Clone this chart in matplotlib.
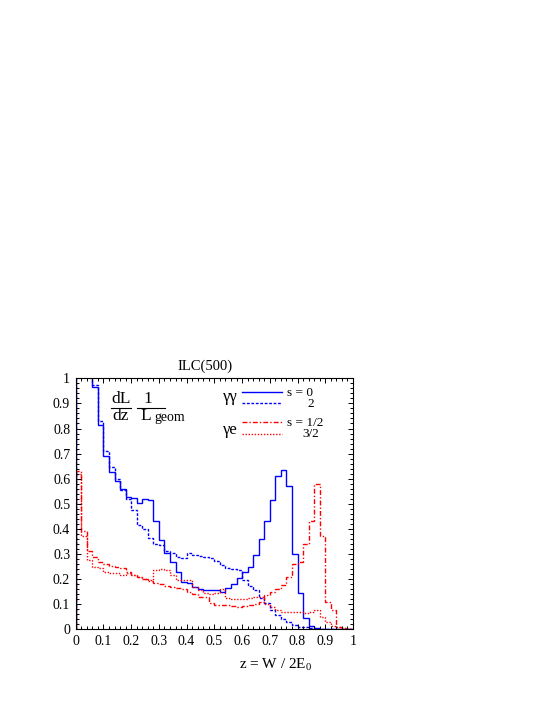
import numpy as np
import matplotlib
matplotlib.use("Agg")
from matplotlib import pyplot as plt
from matplotlib.ticker import MultipleLocator, FormatStrFormatter

plt.rcParams["font.family"] = ["Liberation Serif", "DejaVu Serif"]
plt.rcParams["mathtext.fontset"] = "custom"
plt.rcParams["mathtext.rm"] = "Liberation Serif"

# histogram bins: 50 bins of width 0.02 on z in [0, 1]
edges = np.linspace(0, 1, 51)

# gamma-gamma, s = 0 (solid) and s = 2 (dotted)
gg_s0 = [1.6, 1.4, 1.15, 0.967, 0.814, 0.69, 0.625, 0.59, 0.56, 0.528,
         0.525, 0.502, 0.518, 0.515, 0.43, 0.355, 0.305, 0.27, 0.23, 0.19,
         0.185, 0.17, 0.16, 0.155, 0.155, 0.155, 0.15, 0.165, 0.18, 0.205,
         0.23, 0.25, 0.295, 0.36, 0.43, 0.515, 0.61, 0.635, 0.57, 0.30,
         0.145, 0.045, 0.013, 0.005, 0.002, 0.001, 0, 0, 0, 0]
gg_s2 = [1.6, 1.4, 1.15, 0.975, 0.83, 0.71, 0.645, 0.60, 0.555, 0.52,
         0.475, 0.415, 0.40, 0.365, 0.34, 0.335, 0.31, 0.305, 0.29, 0.283,
         0.305, 0.298, 0.292, 0.287, 0.285, 0.272, 0.258, 0.245, 0.242, 0.236,
         0.198, 0.172, 0.157, 0.123, 0.103, 0.076, 0.057, 0.043, 0.03, 0.017,
         0.01, 0.008, 0.004, 0.002, 0.001, 0, 0, 0, 0, 0]

# gamma-e, s = 1/2 (dash-dot) and s = 3/2 (dotted)
ge_s12 = [0.63, 0.39, 0.31, 0.29, 0.27, 0.26, 0.252, 0.25, 0.243, 0.23,
          0.216, 0.207, 0.199, 0.192, 0.186, 0.18, 0.172, 0.17, 0.163, 0.16,
          0.15, 0.14, 0.13, 0.13, 0.104, 0.097, 0.097, 0.095, 0.093, 0.09,
          0.092, 0.095, 0.1, 0.11, 0.135, 0.15, 0.16, 0.175, 0.21, 0.26,
          0.27, 0.34, 0.43, 0.58, 0.37, 0.11, 0.075, 0.01, 0.005, 0.003]
ge_s32 = [0.62, 0.37, 0.276, 0.25, 0.243, 0.23, 0.223, 0.223, 0.216, 0.226,
          0.216, 0.207, 0.199, 0.195, 0.236, 0.239, 0.236, 0.216, 0.198, 0.195,
          0.196, 0.17, 0.157, 0.143, 0.14, 0.145, 0.159, 0.125, 0.122, 0.12,
          0.12, 0.125, 0.128, 0.13, 0.1, 0.09, 0.075, 0.07, 0.07, 0.068,
          0.068, 0.065, 0.07, 0.075, 0.05, 0.03, 0.015, 0.01, 0.005, 0.003]

blue = "#0000ff"
red = "#ff0000"
ls_solid = "-"
ls_bdot = (0, (2.0, 1.2))
ls_dashdot = (0, (3.5, 1.5, 1.0, 1.5))
ls_rdot = (0, (1.0, 1.2))

W, H = 545, 705
fig = plt.figure(figsize=(5.45, 7.05), dpi=100)
ax = fig.add_axes([75.7 / W, 1 - 629.3 / H, (353 - 75.7) / W, (629.3 - 378.3) / H])

ax.stairs(gg_s0, edges, color=blue, lw=1.0, ls=ls_solid)
ax.stairs(gg_s2, edges, color=blue, lw=1.0, ls=ls_bdot)
ax.stairs(ge_s12, edges, color=red, lw=1.0, ls=ls_dashdot)
ax.stairs(ge_s32, edges, color=red, lw=1.0, ls=ls_rdot)

ax.set_xlim(0, 1)
ax.set_ylim(0, 1)
ax.xaxis.set_major_locator(MultipleLocator(0.1))
ax.xaxis.set_minor_locator(MultipleLocator(0.02))
ax.yaxis.set_major_locator(MultipleLocator(0.1))
ax.yaxis.set_minor_locator(MultipleLocator(0.02))
ax.xaxis.set_major_formatter(FormatStrFormatter("%g"))
ax.yaxis.set_major_formatter(FormatStrFormatter("%g"))
ax.tick_params(which="both", direction="in", top=True, right=True, labelsize=10, width=0.7)
ax.tick_params(which="major", length=3.8, pad=4)
ax.tick_params(which="minor", length=1.9)
for sp in ax.spines.values():
    sp.set_linewidth(0.8)

def fx(px):
    return px / W

def fy(py):
    return 1 - py / H

fig.text(fx(205), fy(366), "ILC(500)", ha="center", va="center", fontsize=10.5)
fig.text(fx(276), fy(665), r"z = W / 2E$_0$", ha="center", va="center", fontsize=11)

# dL/dz 1/L_geom
fig.text(fx(121), fy(399), "dL", ha="center", va="center", fontsize=12.5)
fig.text(fx(121), fy(416), "dz", ha="center", va="center", fontsize=12.5)
fig.add_artist(plt.Line2D([fx(111), fx(131)], [fy(407.5), fy(407.5)], color="k", lw=0.8))
fig.text(fx(147.5), fy(399), "1", ha="center", va="center", fontsize=12.5)
fig.add_artist(plt.Line2D([fx(137), fx(165)], [fy(407.5), fy(407.5)], color="k", lw=0.8))
fig.text(fx(140), fy(416), "L", ha="left", va="center", fontsize=12.5)
fig.text(fx(154), fy(417), "geom", ha="left", va="center", fontsize=10)

# legend
fig.text(fx(230), fy(397), "γγ", ha="center", va="center", fontsize=12)
fig.text(fx(230), fy(430), "γe", ha="center", va="center", fontsize=12)
legend_rows = [(392.3, blue, ls_solid, "s = 0", 287),
               (403.3, blue, ls_bdot, "2", 307),
               (422.3, red, ls_dashdot, "s = 1/2", 287),
               (434.0, red, ls_rdot, "3/2", 302)]
for py, c, ls, lab, tx in legend_rows:
    fig.add_artist(plt.Line2D([fx(241.7), fx(281.7)], [fy(py), fy(py)], color=c, lw=1.0, ls=ls))
    fig.text(fx(tx), fy(py + 0.5), lab, ha="left", va="center", fontsize=9.5)

plt.savefig("out.png", dpi=100)
